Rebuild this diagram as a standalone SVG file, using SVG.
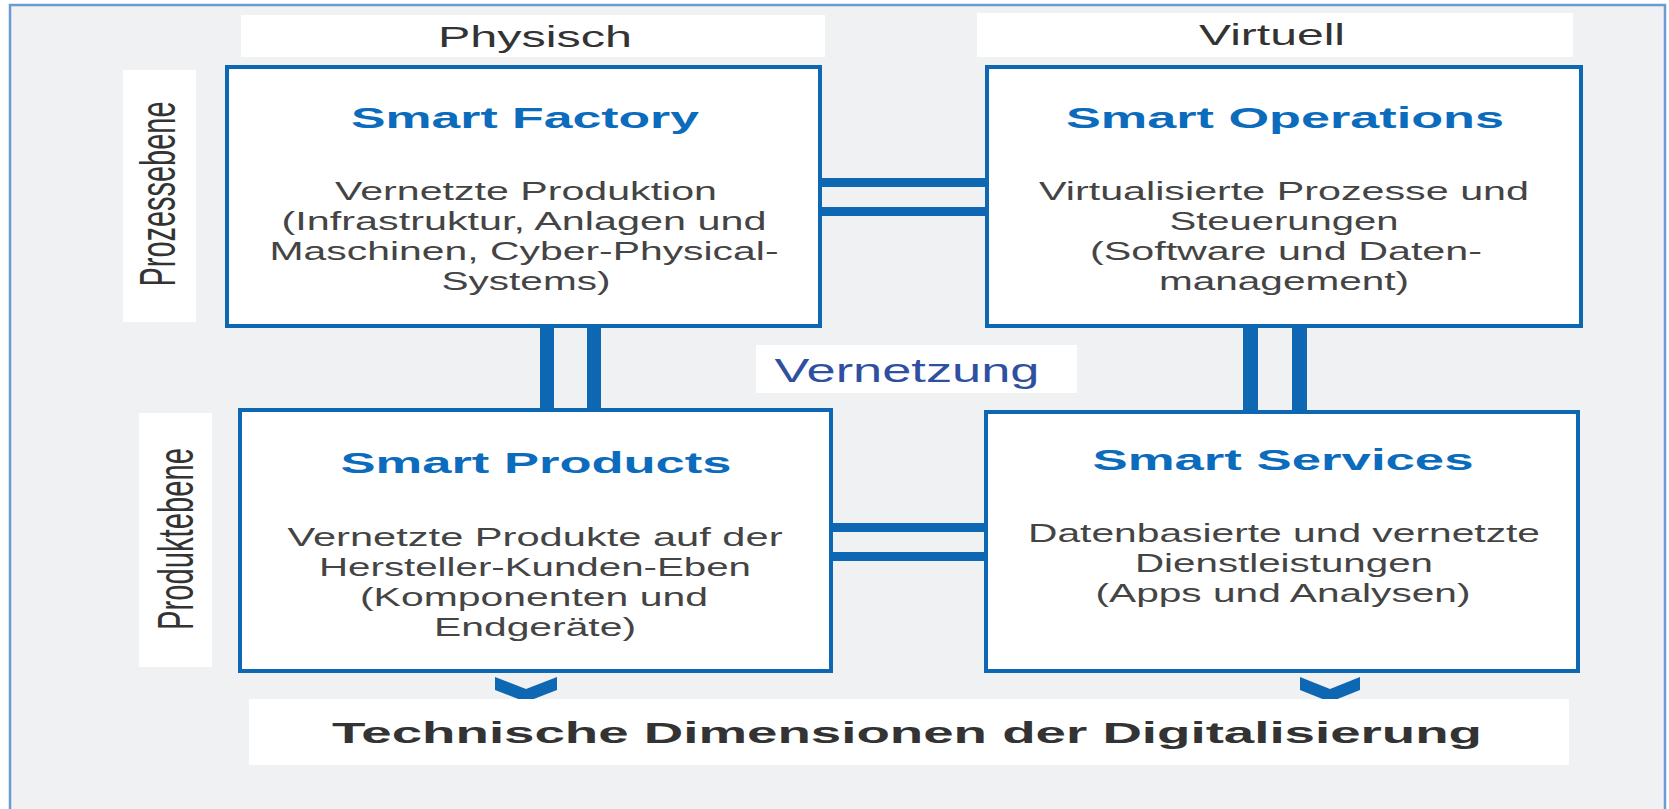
<svg xmlns="http://www.w3.org/2000/svg" width="1669" height="809" viewBox="0 0 1669 809">
<style>
.lbl{fill:#ffffff}
.box{fill:#ffffff;stroke:#0d67b3;stroke-width:4}
.bar{fill:#0d67b3}
.t{font-family:"Liberation Sans",Arial,sans-serif;text-anchor:middle}
.title{font-size:30px;font-weight:bold;fill:#0b6bbd}
.body{font-size:26px;fill:#444444}
.head{font-size:30px;fill:#333333}
.side{font-size:29px;fill:#333333}
</style>
<rect x="0" y="0" width="1669" height="809" fill="#ffffff"/>
<rect x="10" y="5" width="1655" height="830" fill="#eff1f3" stroke="#6a9bd4" stroke-width="2.5"/>

<g id="label-physisch">
<rect class="lbl" x="241" y="15" width="584" height="42"/>
<text class="t head" x="535" y="47" textLength="194" lengthAdjust="spacingAndGlyphs">Physisch</text>
</g>
<g id="label-virtuell">
<rect class="lbl" x="977" y="13" width="596" height="44"/>
<text class="t head" x="1272" y="45" textLength="146" lengthAdjust="spacingAndGlyphs">Virtuell</text>
</g>
<g id="label-prozessebene">
<rect class="lbl" x="123" y="70" width="73" height="252"/>
<text class="t side" transform="translate(175,194) scale(1.7,1) rotate(-90)" x="0" y="0" textLength="185" lengthAdjust="spacingAndGlyphs">Prozessebene</text>
</g>
<g id="label-produktebene">
<rect class="lbl" x="139" y="413" width="73" height="254"/>
<text class="t side" transform="translate(193,539) scale(1.7,1) rotate(-90)" x="0" y="0" textLength="182" lengthAdjust="spacingAndGlyphs">Produktebene</text>
</g>

<g id="connectors">
<rect class="bar" x="822" y="178" width="163" height="9"/>
<rect class="bar" x="822" y="207" width="163" height="9"/>
<rect class="bar" x="833" y="523" width="151" height="9"/>
<rect class="bar" x="833" y="552" width="151" height="9"/>
<rect class="bar" x="540" y="328" width="14" height="82"/>
<rect class="bar" x="587" y="328" width="14" height="82"/>
<rect class="bar" x="1243" y="328" width="15" height="84"/>
<rect class="bar" x="1292" y="328" width="15" height="84"/>
<path class="bar" d="M495,677 L526,689 L557,677 L557,690 L526,702 L495,690 Z"/>
<path class="bar" d="M1300,677 L1330,689 L1360,677 L1360,690 L1330,702 L1300,690 Z"/>
</g>

<g id="smart-factory">
<rect class="box" x="227" y="67" width="593" height="259"/>
<text class="t title" x="525" y="128" textLength="348" lengthAdjust="spacingAndGlyphs">Smart Factory</text>
<text class="t body" x="526" y="200" textLength="382" lengthAdjust="spacingAndGlyphs">Vernetzte Produktion</text>
<text class="t body" x="524" y="230" textLength="485" lengthAdjust="spacingAndGlyphs">(Infrastruktur, Anlagen und</text>
<text class="t body" x="524" y="260" textLength="509" lengthAdjust="spacingAndGlyphs">Maschinen, Cyber-Physical-</text>
<text class="t body" x="526" y="290" textLength="169" lengthAdjust="spacingAndGlyphs">Systems)</text>
</g>

<g id="smart-operations">
<rect class="box" x="987" y="67" width="594" height="259"/>
<text class="t title" x="1285" y="128" textLength="438" lengthAdjust="spacingAndGlyphs">Smart Operations</text>
<text class="t body" x="1284" y="200" textLength="490" lengthAdjust="spacingAndGlyphs">Virtualisierte Prozesse und</text>
<text class="t body" x="1284" y="230" textLength="229" lengthAdjust="spacingAndGlyphs">Steuerungen</text>
<text class="t body" x="1286" y="260" textLength="392" lengthAdjust="spacingAndGlyphs">(Software und Daten-</text>
<text class="t body" x="1284" y="290" textLength="250" lengthAdjust="spacingAndGlyphs">management)</text>
</g>

<g id="label-vernetzung">
<rect class="lbl" x="756" y="345" width="321" height="48"/>
<text class="t" x="907" y="382" font-size="33" fill="#2f50a0" textLength="265" lengthAdjust="spacingAndGlyphs">Vernetzung</text>
</g>

<g id="smart-products">
<rect class="box" x="240" y="410" width="591" height="261"/>
<text class="t title" x="536" y="473" textLength="391" lengthAdjust="spacingAndGlyphs">Smart Products</text>
<text class="t body" x="535" y="546" textLength="495" lengthAdjust="spacingAndGlyphs">Vernetzte Produkte auf der</text>
<text class="t body" x="535" y="576" textLength="432" lengthAdjust="spacingAndGlyphs">Hersteller-Kunden-Eben</text>
<text class="t body" x="534" y="606" textLength="348" lengthAdjust="spacingAndGlyphs">(Komponenten und</text>
<text class="t body" x="535" y="636" textLength="202" lengthAdjust="spacingAndGlyphs">Endgeräte)</text>
</g>

<g id="smart-services">
<rect class="box" x="986" y="412" width="592" height="259"/>
<text class="t title" x="1283" y="470" textLength="381" lengthAdjust="spacingAndGlyphs">Smart Services</text>
<text class="t body" x="1284" y="542" textLength="512" lengthAdjust="spacingAndGlyphs">Datenbasierte und vernetzte</text>
<text class="t body" x="1284" y="572" textLength="298" lengthAdjust="spacingAndGlyphs">Dienstleistungen</text>
<text class="t body" x="1283" y="602" textLength="375" lengthAdjust="spacingAndGlyphs">(Apps und Analysen)</text>
</g>

<g id="label-technische">
<rect class="lbl" x="249" y="699" width="1320" height="66"/>
<text class="t" x="907" y="743" font-size="30" font-weight="bold" fill="#333333" textLength="1150" lengthAdjust="spacingAndGlyphs">Technische Dimensionen der Digitalisierung</text>
</g>
</svg>
